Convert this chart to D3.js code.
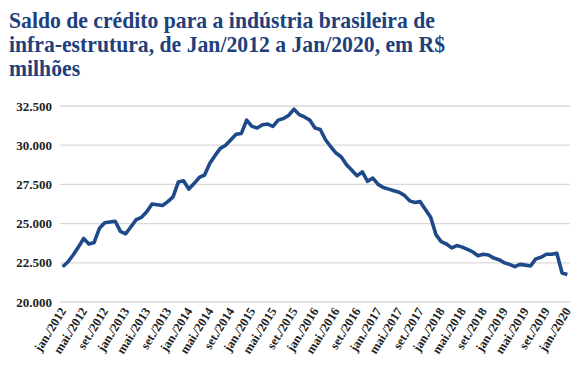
<!DOCTYPE html>
<html><head><meta charset="utf-8">
<script src="https://cdn.jsdelivr.net/npm/d3@7/dist/d3.min.js"></script>
<style>
html,body{margin:0;padding:0;background:#fff;}
svg{display:block;}
</style></head>
<body>
<svg id="chart" width="580" height="392"></svg>
<script>
const titleLines = ["Saldo de crédito para a indústria brasileira de",
  "infra-estrutura, de Jan/2012 a Jan/2020, em R$",
  "milhões"];
const monthNames = ["jan.","fev.","mar.","abr.","mai.","jun.","jul.","ago.","set.","out.","nov.","dez."];
const startYear = 2012;
const values = [
  22250,22550,23000,23500,24050,23700,23800,24700,25050,25100,25150,24500,
  24350,24800,25250,25400,25750,26250,26200,26150,26400,26700,27650,27730,
  27200,27550,27950,28100,28850,29350,29800,30000,30350,30700,30750,31600,
  31200,31100,31300,31350,31200,31600,31700,31900,32300,31950,31800,31600,
  31100,31000,30350,29900,29500,29250,28750,28400,28050,28300,27700,27900,
  27500,27300,27200,27100,27000,26800,26450,26350,26400,25900,25400,24300,
  23850,23700,23450,23600,23500,23350,23200,22950,23050,23000,22800,22700,
  22500,22400,22250,22400,22350,22300,22750,22850,23050,23050,23100,21850,
  21750
];
const categories = values.map((v,i)=> monthNames[i%12] + "/" + (startYear + Math.floor(i/12)));
const yTicks = [20000,22500,25000,27500,30000,32500];

const FONT = 'Liberation Serif';
const svg = d3.select("#chart");
const x = d3.scaleBand().domain(categories).range([60,570]);
const y = d3.scaleLinear().domain([20000,32500]).range([302,106]);

// title (slightly stretched vertically to match the reference glyph proportions)
const sy = 1.1;
const t = svg.append("g").attr("transform",`scale(1,${sy})`).append("text")
  .attr("font-family",FONT)
  .attr("font-weight","bold").attr("font-size","21.7px").attr("fill","#213f7c");
titleLines.forEach((l,i)=> t.append("tspan").attr("x",9).attr("y",(28.5+i*24)/sy).text(l));

// grid
svg.append("g").selectAll("line").data(yTicks).join("line")
  .attr("x1",60).attr("x2",570)
  .attr("y1",d=>y(d)).attr("y2",d=>y(d))
  .attr("stroke","#d9d9d9").attr("stroke-width",1.3);

// y axis labels
const yAxis = d3.axisLeft(y).tickValues(yTicks).tickSize(0).tickPadding(8)
  .tickFormat(d => { const s = String(d); return s.slice(0,s.length-3)+"."+s.slice(-3); });
const gy = svg.append("g").attr("transform","translate(60,0)").call(yAxis)
  .attr("font-family",FONT);
gy.select(".domain").remove();
gy.selectAll("text")
  .attr("font-weight","bold").attr("font-size","13px").attr("fill","#222");

// x axis labels
const xLabels = categories.filter((c,i)=> i%4===0);
const xAxis = d3.axisBottom(x).tickValues(xLabels).tickSize(0).tickPadding(0);
const gx = svg.append("g").attr("transform","translate(0,302)").call(xAxis)
  .attr("font-family",FONT);
gx.select(".domain").remove();
gx.selectAll("text")
  .attr("text-anchor","end")
  .attr("dy",null).attr("y",0)
  .attr("transform","translate(4,9) rotate(-58)")
  .attr("font-weight","bold").attr("font-size","12.5px").attr("fill","#222");

// line
const line = d3.line()
  .x((d,i)=> x(categories[i]) + x.bandwidth()/2)
  .y(d=> y(d));
svg.append("path").datum(values)
  .attr("d",line).attr("fill","none")
  .attr("stroke","#1f4a8a").attr("stroke-width",3.6)
  .attr("stroke-linejoin","round");
</script>
</body></html>
